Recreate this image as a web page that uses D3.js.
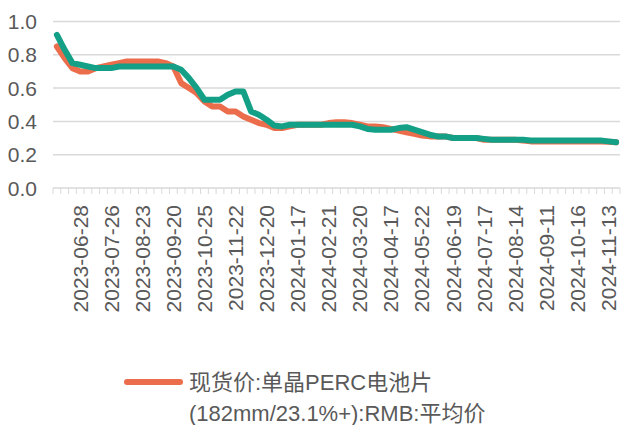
<!DOCTYPE html>
<html>
<head>
<meta charset="utf-8">
<script src="https://cdn.jsdelivr.net/npm/d3@7"></script>
<style>
  body { margin: 0; background: #fff; }
  text { font-family: "Liberation Sans", "Noto Sans CJK SC", sans-serif; fill: #595959; }
</style>
</head>
<body>
<svg width="627" height="425"></svg>
<script>
// weekly dates (holiday weeks missing)
var dates = [
  "2023-06-07", "2023-06-14", "2023-06-21", "2023-06-28", "2023-07-05", "2023-07-12", "2023-07-19", "2023-07-26",
  "2023-08-02", "2023-08-09", "2023-08-16", "2023-08-23", "2023-08-30", "2023-09-06", "2023-09-13", "2023-09-20",
  "2023-09-27", "2023-10-11", "2023-10-18", "2023-10-25", "2023-11-01", "2023-11-08", "2023-11-15", "2023-11-22",
  "2023-11-29", "2023-12-06", "2023-12-13", "2023-12-20", "2023-12-27", "2024-01-03", "2024-01-10", "2024-01-17",
  "2024-01-24", "2024-01-31", "2024-02-07", "2024-02-21", "2024-02-28", "2024-03-06", "2024-03-13", "2024-03-20",
  "2024-03-27", "2024-04-03", "2024-04-10", "2024-04-17", "2024-04-24", "2024-05-08", "2024-05-15", "2024-05-22",
  "2024-05-29", "2024-06-05", "2024-06-12", "2024-06-19", "2024-06-26", "2024-07-03", "2024-07-10", "2024-07-17",
  "2024-07-24", "2024-07-31", "2024-08-07", "2024-08-14", "2024-08-21", "2024-08-28", "2024-09-04", "2024-09-11",
  "2024-09-18", "2024-09-25", "2024-10-09", "2024-10-16", "2024-10-23", "2024-10-30", "2024-11-06", "2024-11-13",
  "2024-11-20"
];

// 现货价:单晶PERC电池片(182mm/23.1%+):RMB:平均价
var perc = [
  0.85, 0.78, 0.72, 0.70, 0.70, 0.72, 0.73, 0.74,
  0.75, 0.76, 0.76, 0.76, 0.76, 0.76, 0.75, 0.73,
  0.63, 0.60, 0.57, 0.52, 0.49, 0.49, 0.46, 0.46,
  0.43, 0.41, 0.39, 0.38, 0.36, 0.36, 0.37, 0.38,
  0.38, 0.38, 0.38, 0.39, 0.395, 0.395, 0.39, 0.38,
  0.37, 0.37, 0.365, 0.355, 0.345, 0.335, 0.325, 0.315,
  0.31, 0.31, 0.31, 0.30, 0.30, 0.30, 0.30, 0.29,
  0.29, 0.29, 0.29, 0.29, 0.285, 0.28, 0.28, 0.28,
  0.28, 0.28, 0.28, 0.28, 0.28, 0.28, 0.28, 0.278,
  0.275
];

// second series (legend entry not shown)
var second = [
  0.92, 0.83, 0.75, 0.74, 0.73, 0.72, 0.72, 0.72,
  0.73, 0.73, 0.73, 0.73, 0.73, 0.73, 0.73, 0.73,
  0.71, 0.66, 0.60, 0.53, 0.53, 0.53, 0.56, 0.58,
  0.58, 0.46, 0.44, 0.41, 0.375, 0.37, 0.38, 0.38,
  0.38, 0.38, 0.38, 0.38, 0.38, 0.38, 0.38, 0.37,
  0.355, 0.35, 0.35, 0.35, 0.36, 0.365, 0.35, 0.335,
  0.32, 0.31, 0.31, 0.30, 0.30, 0.30, 0.30, 0.295,
  0.29, 0.29, 0.29, 0.29, 0.29, 0.285, 0.285, 0.285,
  0.285, 0.285, 0.285, 0.285, 0.285, 0.285, 0.285, 0.28,
  0.275
];

var yTicks = [0, 0.2, 0.4, 0.6, 0.8, 1.0];

var svg = d3.select("svg"),
    plotLeft = 53, plotRight = 620, plotTop = 21.5, plotBottom = 188;

var x = d3.scalePoint()
    .domain(dates)
    .range([plotLeft, plotRight])
    .padding(0.5);

var y = d3.scaleLinear()
    .domain([0, 1])
    .range([plotBottom, plotTop]);

// gridlines
svg.append("g")
    .selectAll("line")
    .data(yTicks)
    .enter().append("line")
    .attr("x1", plotLeft)
    .attr("x2", plotRight)
    .attr("y1", function (d) { return y(d); })
    .attr("y2", function (d) { return y(d); })
    .attr("stroke", "#d9d9d9")
    .attr("stroke-width", 1.5);

// y labels
svg.append("g")
    .selectAll("text")
    .data(yTicks)
    .enter().append("text")
    .attr("x", 37)
    .attr("y", function (d) { return y(d); })
    .attr("text-anchor", "end")
    .attr("dominant-baseline", "central")
    .style("font-size", "21px")
    .text(function (d) { return d3.format(".1f")(d); });

// category tick marks at boundaries
var step = x.step();
var bounds = dates.map(function (d) { return x(d) - step / 2; });
bounds.push(x(dates[dates.length - 1]) + step / 2);

svg.append("g")
    .selectAll("line")
    .data(bounds)
    .enter().append("line")
    .attr("x1", function (d) { return d; })
    .attr("x2", function (d) { return d; })
    .attr("y1", plotBottom)
    .attr("y2", plotBottom + 6)
    .attr("stroke", "#d9d9d9")
    .attr("stroke-width", 1);

// x labels, every 4th category
svg.append("g")
    .selectAll("text")
    .data(dates.filter(function (d, i) { return (i - 3) % 4 === 0; }))
    .enter().append("text")
    .attr("transform", function (d) { return "translate(" + x(d) + "," + (plotBottom + 17) + ") rotate(-90)"; })
    .attr("text-anchor", "end")
    .attr("dominant-baseline", "central")
    .style("font-size", "21px")
    .text(function (d) { return d; });

var line = d3.line()
    .x(function (d, i) { return x(dates[i]); })
    .y(function (d) { return y(d); });

svg.append("path")
    .datum(perc)
    .attr("d", line)
    .attr("fill", "none")
    .attr("stroke", "#EC6D4B")
    .attr("stroke-width", 6)
    .attr("stroke-linejoin", "round")
    .attr("stroke-linecap", "round");

svg.append("path")
    .datum(second)
    .attr("d", line)
    .attr("fill", "none")
    .attr("stroke", "#13A086")
    .attr("stroke-width", 6)
    .attr("stroke-linejoin", "round")
    .attr("stroke-linecap", "round");

// legend
var legend = svg.append("g");
legend.append("line")
    .attr("x1", 127)
    .attr("x2", 180)
    .attr("y1", 382)
    .attr("y2", 382)
    .attr("stroke", "#EC6D4B")
    .attr("stroke-width", 6)
    .attr("stroke-linecap", "round");
legend.append("text")
    .attr("x", 189)
    .attr("y", 390)
    .style("font-size", "22px")
    .text("现货价:单晶PERC电池片");
legend.append("text")
    .attr("x", 189)
    .attr("y", 421)
    .style("font-size", "22px")
    .text("(182mm/23.1%+):RMB:平均价");
</script>
</body>
</html>
